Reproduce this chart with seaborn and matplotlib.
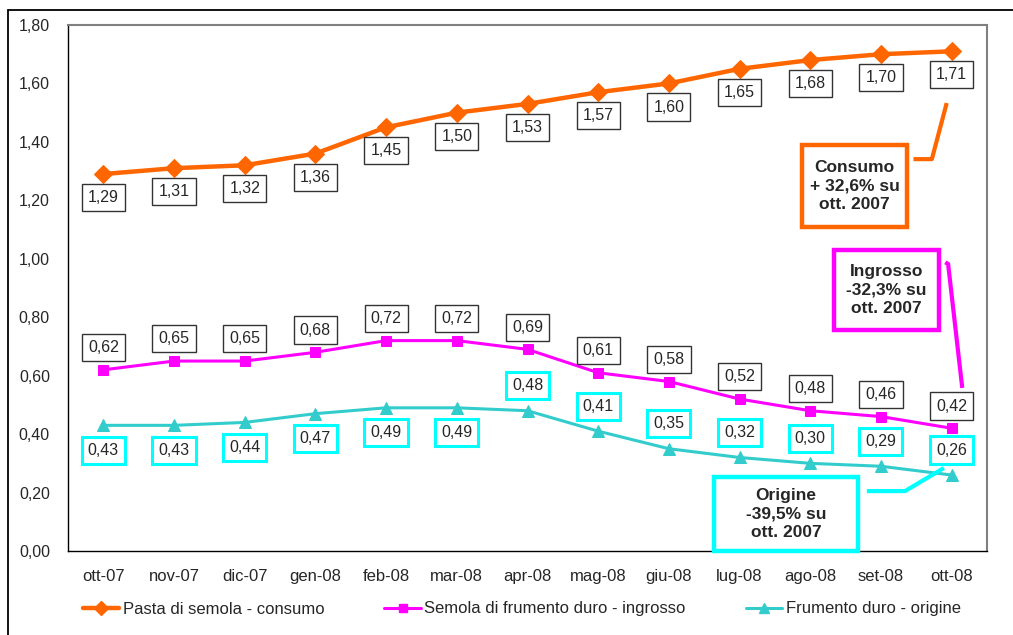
import numpy as np
import pandas as pd
import matplotlib
matplotlib.use("Agg")
import matplotlib.pyplot as plt
from matplotlib.patches import Rectangle
from matplotlib.lines import Line2D
import seaborn as sns

# Monthly prices (euro/kg), Oct 2007 - Oct 2008
months = ["ott-07", "nov-07", "dic-07", "gen-08", "feb-08", "mar-08", "apr-08",
          "mag-08", "giu-08", "lug-08", "ago-08", "set-08", "ott-08"]
pasta_consumo = [1.29, 1.31, 1.32, 1.36, 1.45, 1.50, 1.53, 1.57, 1.60, 1.65, 1.68, 1.70, 1.71]
semola_ingrosso = [0.62, 0.65, 0.65, 0.68, 0.72, 0.72, 0.69, 0.61, 0.58, 0.52, 0.48, 0.46, 0.42]
frumento_origine = [0.43, 0.43, 0.44, 0.47, 0.49, 0.49, 0.48, 0.41, 0.35, 0.32, 0.30, 0.29, 0.26]
series_names = ["Pasta di semola - consumo", "Semola di frumento duro - ingrosso",
                "Frumento duro - origine"]
y_ticks = [0.0, 0.2, 0.4, 0.6, 0.8, 1.0, 1.2, 1.4, 1.6, 1.8]
notes = ["Consumo\n+ 32,6% su\nott. 2007",
         "Ingrosso\n-32,3% su\nott. 2007",
         "Origine\n-39,5% su\nott. 2007"]

ORANGE = "#FF6600"
MAGENTA = "#FF00FF"
TEAL = "#33CCCC"
CYAN = "#00FFFF"

sns.set_style("white")
plt.rcParams["font.family"] = ["Liberation Sans", "DejaVu Sans"]

fig = plt.figure(figsize=(10.13, 6.35), dpi=100)
ax = fig.add_axes([68 / 1013, 1 - 551 / 635, (987 - 68) / 1013, (551 - 25) / 635])

x = np.arange(len(months))
df = pd.DataFrame({"x": x, "pasta": pasta_consumo, "semola": semola_ingrosso,
                   "frumento": frumento_origine})

sns.lineplot(data=df, x="x", y="pasta", ax=ax, color=ORANGE, linewidth=3.2,
             marker="D", markersize=9, markeredgecolor=ORANGE, zorder=3)
sns.lineplot(data=df, x="x", y="semola", ax=ax, color=MAGENTA, linewidth=2.2,
             marker="s", markersize=7, markeredgecolor=MAGENTA, zorder=3)
sns.lineplot(data=df, x="x", y="frumento", ax=ax, color=TEAL, linewidth=2.2,
             marker="^", markersize=8, markeredgecolor=TEAL, zorder=3)


def fmt(v):
    return f"{v:.2f}".replace(".", ",")


LABEL_BOX = "square,pad=0.38"

# Value labels
for xi, v in zip(x, pasta_consumo):
    ax.annotate(fmt(v), (xi, v), xytext=(0, -17), textcoords="offset points",
                ha="center", va="center", fontsize=11.5, zorder=5,
                bbox=dict(boxstyle=LABEL_BOX, fc="white", ec="#333333", lw=1))
for xi, v in zip(x, semola_ingrosso):
    ax.annotate(fmt(v), (xi, v), xytext=(0, 16), textcoords="offset points",
                ha="center", va="center", fontsize=11.5, zorder=5,
                bbox=dict(boxstyle=LABEL_BOX, fc="white", ec="#333333", lw=1))
for xi, v in zip(x, frumento_origine):
    dy = -18 if xi < 6 else 18
    ax.annotate(fmt(v), (xi, v), xytext=(0, dy), textcoords="offset points",
                ha="center", va="center", fontsize=11.5, zorder=5,
                bbox=dict(boxstyle=LABEL_BOX, fc="white", ec=CYAN, lw=2.2))

# Callout boxes with connectors
callouts = [
    (notes[0], ORANGE, (9.88, 1.109, 1.49, 0.280),
     [(11.46, 11.72, 11.93), (1.341, 1.341, 1.533)]),
    (notes[1], MAGENTA, (10.34, 0.756, 1.48, 0.274),
     [(11.91, 11.95, 12.15), (0.988, 0.982, 0.558)]),
    (notes[2], CYAN, (8.64, 0.0, 2.03, 0.253),
     [(10.80, 11.34, 11.89), (0.205, 0.205, 0.284)]),
]
for text, col, (rx, ry, rw, rh), (lx, ly) in callouts:
    ax.add_patch(Rectangle((rx, ry), rw, rh, fc="white", ec=col, lw=3.2,
                           zorder=6, clip_on=False))
    ax.text(rx + rw / 2, ry + rh / 2, text, ha="center", va="center",
            fontsize=12.5, fontweight="bold", linespacing=1.3, zorder=7)
    ax.plot(lx, ly, color=col, lw=3, zorder=6, solid_capstyle="butt")

# Axes styling
ax.set_xlim(-0.5, len(months) - 0.5)
ax.set_ylim(0, 1.8)
ax.set_yticks(y_ticks)
ax.set_yticklabels([fmt(t) for t in y_ticks], fontsize=11.5)
ax.set_xticks(np.arange(-0.5, len(months), 1.0))
ax.set_xticklabels([])
ax.set_xticks(x, minor=True)
ax.set_xticklabels(months, minor=True, fontsize=12)
ax.tick_params(axis="x", which="major", direction="out", length=5, width=1, color="black")
ax.tick_params(axis="x", which="minor", length=0, pad=13)
ax.tick_params(axis="y", direction="out", length=5, width=1, color="black", pad=8)
ax.set_xlabel("")
ax.set_ylabel("")
for side in ["left", "bottom"]:
    ax.spines[side].set_color("black")
    ax.spines[side].set_linewidth(1)
for side in ["top", "right"]:
    ax.spines[side].set_color("#808080")
    ax.spines[side].set_linewidth(1.5)
ax.grid(False)

# Legend
handles = [
    Line2D([], [], color=ORANGE, lw=3.2, marker="D", markersize=7, markeredgecolor=ORANGE),
    Line2D([], [], color=MAGENTA, lw=2.2, marker="s", markersize=6, markeredgecolor=MAGENTA),
    Line2D([], [], color=TEAL, lw=2.2, marker="^", markersize=7, markeredgecolor=TEAL),
]
fig.legend(handles, series_names, loc="center", bbox_to_anchor=(0.515, 1 - 609 / 635),
           ncol=3, frameon=False, fontsize=12, handlelength=2.2, handletextpad=0.2,
           columnspacing=3.6)

# Chart frame
fig.add_artist(Rectangle((8 / 1013, -0.05), 1.2, 1 - 10 / 635 + 0.05,
                         transform=fig.transFigure, fill=False, ec="black", lw=1.3))

fig.savefig("out.png", dpi=100)
